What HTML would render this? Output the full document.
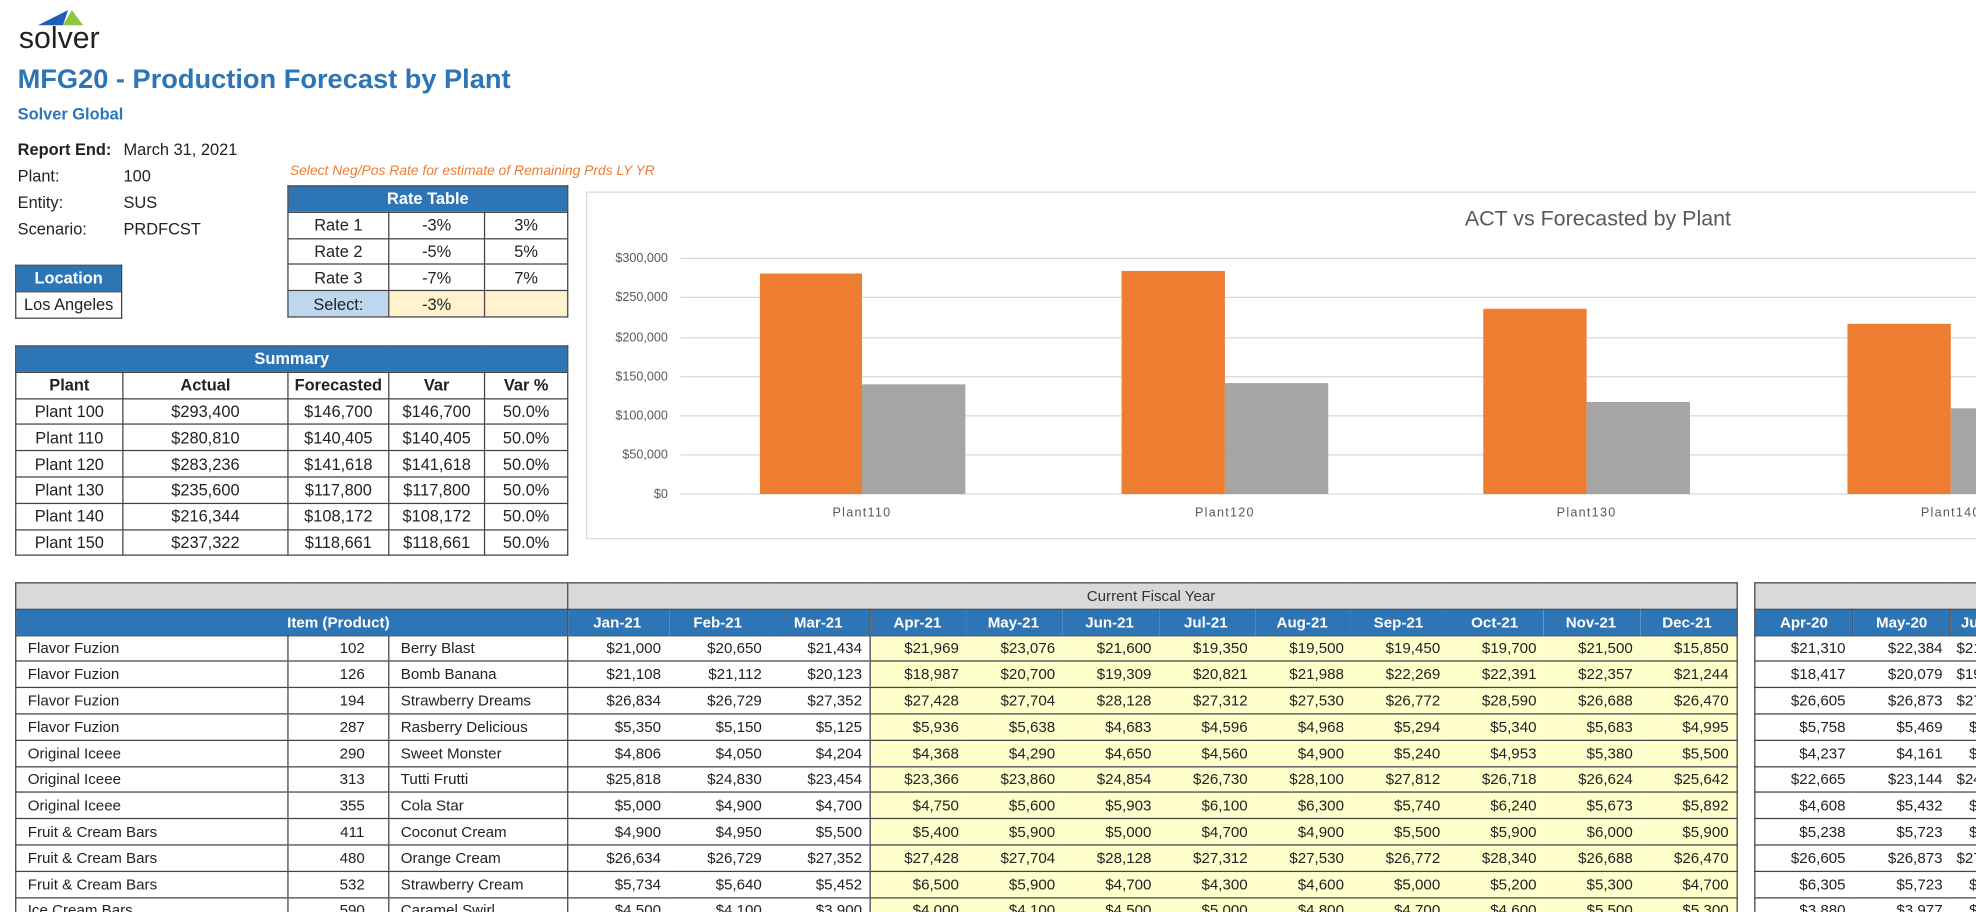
<!DOCTYPE html>
<html><head><meta charset="utf-8"><style>
html,body{margin:0;padding:0;background:#fff;width:1976px;height:912px;overflow:hidden}
#c{position:absolute;left:0;top:0;width:1568px;height:724px;transform:scale(1.2602);transform-origin:0 0;overflow:hidden;font-family:"Liberation Sans",sans-serif;color:#222}
.a{position:absolute;white-space:nowrap}
table{border-collapse:collapse;table-layout:fixed;position:absolute;font-size:12px}
td{border:1px solid #444;padding:0 4px;height:19.8px;white-space:nowrap;overflow:hidden}
.h td{background:#2e75b6;color:#fff;font-weight:bold;text-align:center}
.c{text-align:center}.r{text-align:right}
.y{background:#ffffcc}
#bt td{border-left:none;border-right:none;text-align:right;padding-right:6px}
#bt td.bl{border-left:1px solid #444}
#bt td.br{border-right:1px solid #444}
#bt td.l{text-align:left;padding-left:9px}
.g td{background:#d9d9d9;color:#333;text-align:center}
</style></head><body><div id="c">
<svg class="a" style="left:28px;top:6px" width="42" height="16"><polygon points="2,14 26,2 22,14" fill="#1f5fb4"/><polygon points="22,14 29,2 38,14" fill="#8dc63f"/></svg>
<div class="a" style="left:15px;top:17px;font-size:24px;color:#222">solver</div>
<div class="a" style="left:14px;top:50px;font-size:21.6px;font-weight:bold;color:#2e75b6">MFG20 - Production Forecast by Plant</div>
<div class="a" style="left:14px;top:83px;font-size:13px;font-weight:bold;color:#2e75b6">Solver Global</div>
<div class="a" style="left:14px;top:108px;font-size:13px;line-height:21px"><b>Report End:</b><br>Plant:<br>Entity:<br>Scenario:</div>
<div class="a" style="left:98px;top:108px;font-size:13px;line-height:21px">March 31, 2021<br>100<br>SUS<br>PRDFCST</div>
<div class="a" style="left:230px;top:130px;font-size:11px;font-style:italic;color:#ed7d31">Select Neg/Pos Rate for estimate of Remaining Prds LY YR</div>

<table style="left:228px;top:147px;width:222px;font-size:13px">
<col style="width:80px"><col style="width:76px"><col style="width:66px">
<tr class="h"><td colspan="3">Rate Table</td></tr>
<tr><td class="c">Rate 1</td><td class="c">-3%</td><td class="c">3%</td></tr>
<tr><td class="c">Rate 2</td><td class="c">-5%</td><td class="c">5%</td></tr>
<tr><td class="c">Rate 3</td><td class="c">-7%</td><td class="c">7%</td></tr>
<tr><td class="c" style="background:#bdd7ee">Select:</td><td class="c" style="background:#fff2cc">-3%</td><td style="background:#fff2cc"></td></tr>
</table>
<table style="left:12px;top:210px;width:85px;font-size:13px">
<tr class="h"><td>Location</td></tr><tr><td class="c">Los Angeles</td></tr></table>

<table style="left:12px;top:274px;width:438px;font-size:13px">
<col style="width:85px"><col style="width:131px"><col style="width:80px"><col style="width:76px"><col style="width:66px">
<tr class="h"><td colspan="5">Summary</td></tr>
<tr style="font-weight:bold"><td class="c">Plant</td><td class="c">Actual</td><td class="c">Forecasted</td><td class="c">Var</td><td class="c">Var %</td></tr>
<tr><td class="c">Plant 100</td><td class="c">$293,400</td><td class="c">$146,700</td><td class="c">$146,700</td><td class="c">50.0%</td></tr>
<tr><td class="c">Plant 110</td><td class="c">$280,810</td><td class="c">$140,405</td><td class="c">$140,405</td><td class="c">50.0%</td></tr>
<tr><td class="c">Plant 120</td><td class="c">$283,236</td><td class="c">$141,618</td><td class="c">$141,618</td><td class="c">50.0%</td></tr>
<tr><td class="c">Plant 130</td><td class="c">$235,600</td><td class="c">$117,800</td><td class="c">$117,800</td><td class="c">50.0%</td></tr>
<tr><td class="c">Plant 140</td><td class="c">$216,344</td><td class="c">$108,172</td><td class="c">$108,172</td><td class="c">50.0%</td></tr>
<tr><td class="c">Plant 150</td><td class="c">$237,322</td><td class="c">$118,661</td><td class="c">$118,661</td><td class="c">50.0%</td></tr>
</table>

<svg class="a" style="left:465px;top:152px" width="1110" height="276" font-family="Liberation Sans,sans-serif">
<rect x="0.5" y="0.5" width="1120" height="275" fill="#fff" stroke="#d9d9d9"/>
<text x="803" y="27" font-size="17" fill="#595959" text-anchor="middle">ACT vs Forecasted by Plant</text>
<g stroke="#d9d9d9" stroke-width="1">
<line x1="75" x2="1110" y1="53" y2="53"/><line x1="75" x2="1110" y1="84" y2="84"/><line x1="75" x2="1110" y1="116" y2="116"/><line x1="75" x2="1110" y1="147" y2="147"/><line x1="75" x2="1110" y1="178" y2="178"/><line x1="75" x2="1110" y1="209" y2="209"/><line x1="75" x2="1110" y1="240" y2="240"/></g>
<g font-size="10" fill="#595959" text-anchor="end">
<text x="65" y="56">$300,000</text><text x="65" y="87">$250,000</text><text x="65" y="119">$200,000</text><text x="65" y="150">$150,000</text><text x="65" y="181">$100,000</text><text x="65" y="212">$50,000</text><text x="65" y="243">$0</text></g>
<g fill="#ed7d31"><rect x="138" y="65" width="81" height="175"/><rect x="425" y="63" width="82" height="177"/><rect x="712" y="93" width="82" height="147"/><rect x="1001" y="105" width="82" height="135"/></g>
<g fill="#a5a5a5"><rect x="219" y="153" width="82" height="87"/><rect x="507" y="152" width="82" height="88"/><rect x="794" y="167" width="82" height="73"/><rect x="1083" y="172" width="82" height="68"/></g>
<g font-size="10" fill="#595959" text-anchor="middle" letter-spacing="1"><text x="219" y="258">Plant110</text><text x="507" y="258">Plant120</text><text x="794" y="258">Plant130</text><text x="1083" y="258">Plant140</text></g>
</svg>

<table id="bt" style="left:12px;top:462px;width:1366px">
<col style="width:216px"><col style="width:80px"><col style="width:142px"><col style="width:80px"><col style="width:80px"><col style="width:80px">
<col style="width:76.4px"><col style="width:76.4px"><col style="width:76.4px"><col style="width:76.4px"><col style="width:76.4px"><col style="width:76.4px"><col style="width:76.4px"><col style="width:76.4px"><col style="width:76.4px">
<tr class="g"><td colspan="3" class="bl" style="border-right:1px solid #444"></td><td colspan="12" class="br" style="text-align:center">Current Fiscal Year</td></tr>
<tr class="h"><td colspan="3" class="bl" style="text-align:center;padding-left:80px">Item (Product)</td><td class="bl" style="text-align:center">Jan-21</td><td style="text-align:center">Feb-21</td><td style="text-align:center">Mar-21</td><td class="bl" style="text-align:center">Apr-21</td><td style="text-align:center">May-21</td><td style="text-align:center">Jun-21</td><td style="text-align:center">Jul-21</td><td style="text-align:center">Aug-21</td><td style="text-align:center">Sep-21</td><td style="text-align:center">Oct-21</td><td style="text-align:center">Nov-21</td><td class="br" style="text-align:center">Dec-21</td></tr>
</table>

<table id="bt2" style="left:1392px;top:462px;width:240px">
<col style="width:78px"><col style="width:77px"><col style="width:85px">
<tr class="g"><td colspan="3" style="border-left:1px solid #444"></td></tr>
<tr class="h"><td style="border-left:1px solid #444">Apr-20</td><td>May-20</td><td style="text-align:left;padding-left:8px">Jun-20</td></tr>
</table>

<script>
var d=[
["Flavor Fuzion","102","Berry Blast","$21,000","$20,650","$21,434","$21,969","$23,076","$21,600","$19,350","$19,500","$19,450","$19,700","$21,500","$15,850","$21,310","$22,384","$21,900"],
["Flavor Fuzion","126","Bomb Banana","$21,108","$21,112","$20,123","$18,987","$20,700","$19,309","$20,821","$21,988","$22,269","$22,391","$22,357","$21,244","$18,417","$20,079","$19,900"],
["Flavor Fuzion","194","Strawberry Dreams","$26,834","$26,729","$27,352","$27,428","$27,704","$28,128","$27,312","$27,530","$26,772","$28,590","$26,688","$26,470","$26,605","$26,873","$27,100"],
["Flavor Fuzion","287","Rasberry Delicious","$5,350","$5,150","$5,125","$5,936","$5,638","$4,683","$4,596","$4,968","$5,294","$5,340","$5,683","$4,995","$5,758","$5,469","$5,100"],
["Original Iceee","290","Sweet Monster","$4,806","$4,050","$4,204","$4,368","$4,290","$4,650","$4,560","$4,900","$5,240","$4,953","$5,380","$5,500","$4,237","$4,161","$4,300"],
["Original Iceee","313","Tutti Frutti","$25,818","$24,830","$23,454","$23,366","$23,860","$24,854","$26,730","$28,100","$27,812","$26,718","$26,624","$25,642","$22,665","$23,144","$24,100"],
["Original Iceee","355","Cola Star","$5,000","$4,900","$4,700","$4,750","$5,600","$5,903","$6,100","$6,300","$5,740","$6,240","$5,673","$5,892","$4,608","$5,432","$5,100"],
["Fruit & Cream Bars","411","Coconut Cream","$4,900","$4,950","$5,500","$5,400","$5,900","$5,000","$4,700","$4,900","$5,500","$5,900","$6,000","$5,900","$5,238","$5,723","$5,000"],
["Fruit & Cream Bars","480","Orange Cream","$26,634","$26,729","$27,352","$27,428","$27,704","$28,128","$27,312","$27,530","$26,772","$28,340","$26,688","$26,470","$26,605","$26,873","$27,100"],
["Fruit & Cream Bars","532","Strawberry Cream","$5,734","$5,640","$5,452","$6,500","$5,900","$4,700","$4,300","$4,600","$5,000","$5,200","$5,300","$4,700","$6,305","$5,723","$5,100"],
["Ice Cream Bars","590","Caramel Swirl","$4,500","$4,100","$3,900","$4,000","$4,100","$4,500","$5,000","$4,800","$4,700","$4,600","$5,500","$5,300","$3,880","$3,977","$4,000"]];
var t=document.getElementById('bt'),t2=document.getElementById('bt2');
d.forEach(function(r){var h='<tr>';for(var i=0;i<15;i++){var cl=[];if(i==0||i==1||i==2||i==3||i==6)cl.push('bl');if(i==2||i==14)cl.push('br');if(i==0||i==2)cl.push('l');if(i>=6)cl.push('y');var st=i==1?' style="text-align:center;padding-left:28px"':'';h+='<td class="'+cl.join(' ')+'"'+st+'>'+r[i]+'</td>';}t.insertAdjacentHTML('beforeend',h+'</tr>');
var v=r[17].length>6?r[17]:'&nbsp;&nbsp;&nbsp;'+r[17];
t2.insertAdjacentHTML('beforeend','<tr><td style="border-left:1px solid #444;border-right:none;text-align:right;padding-right:6px">'+r[15]+'</td><td style="border-left:none;border-right:none;text-align:right;padding-right:6px">'+r[16]+'</td><td style="border-left:none;text-align:left;padding-left:5px">'+v+'</td></tr>');});
</script>
</div></body></html>
